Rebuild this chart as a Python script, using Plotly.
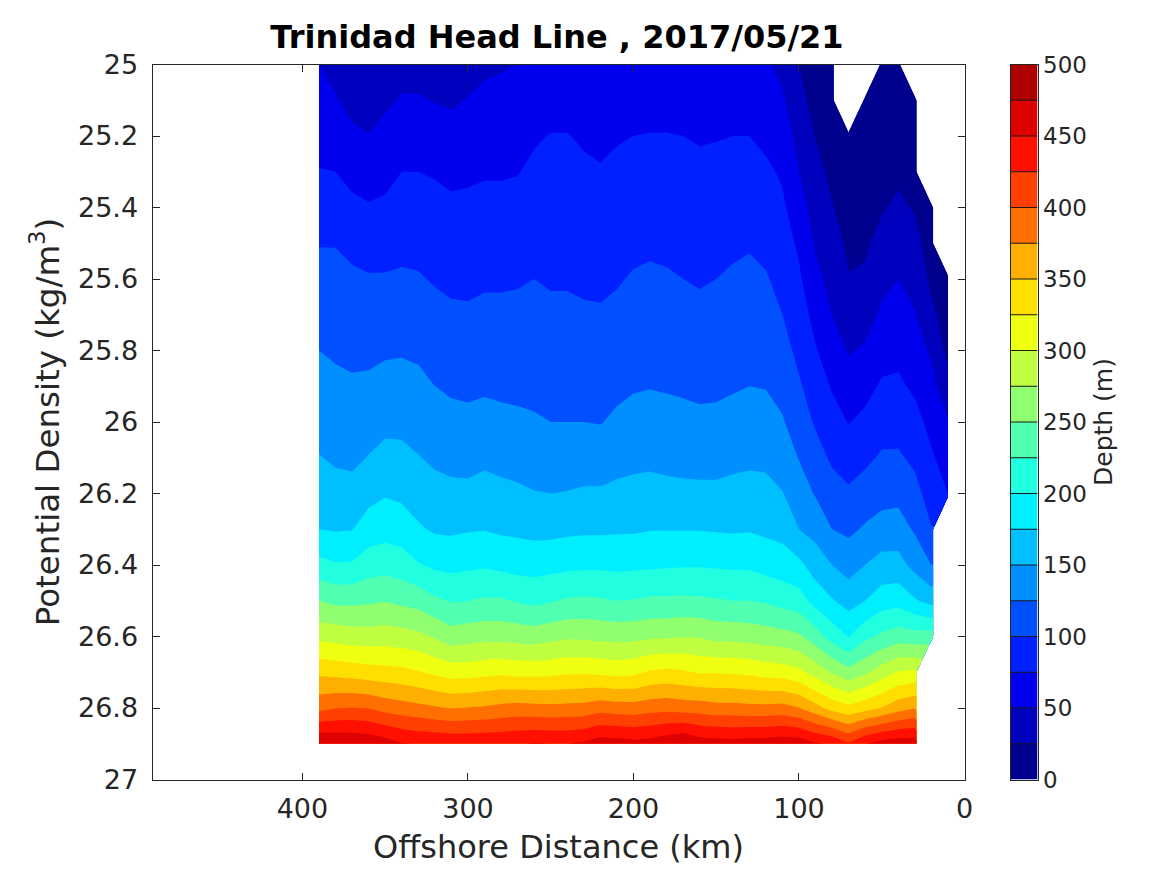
import plotly.graph_objects as go
import numpy as np

# The page puts the figure about 8 px in from the window corner
PAGE = 7.5
W, H = 1151, 859

# Offshore stations (km) and density levels (kg/m3)
distance = [390, 380, 370, 360, 350, 340, 330, 320, 310, 300, 290, 280, 270, 260, 250, 240, 230, 220, 210, 200,
            190, 180, 170, 160, 150, 140, 130, 120, 110, 100, 90, 80, 70, 60, 50, 40, 30, 20, 10]
density = [25.0, 25.1, 25.2, 25.3, 25.4, 25.5, 25.6, 25.7, 25.8, 25.9,
           26.0, 26.1, 26.2, 26.3, 26.4, 26.5, 26.6, 26.7, 26.8, 26.9]

# Depth (m) of each isopycnal, one list per station
depth = [
    [50, 59, 67, 76, 88, 99, 108, 117, 125, 134, 142, 151, 163, 175, 208, 250, 293, 345, 393, 475],
    [41, 52, 63, 75, 87, 99, 107, 115, 122, 130, 138, 147, 158, 173, 202, 244, 290, 342, 399, 473],
    [29, 42, 55, 67, 81, 94, 104, 112, 120, 128, 137, 145, 158, 174, 203, 244, 287, 339, 401, 472],
    [26, 38, 51, 64, 77, 90, 102, 111, 120, 129, 140, 151, 167, 187, 213, 246, 286, 336, 399, 469],
    [35, 46, 57, 68, 79, 91, 102, 112, 122, 133, 144, 157, 173, 191, 215, 249, 287, 334, 391, 462],
    [41, 52, 63, 75, 84, 94, 103, 113, 123, 133, 144, 156, 170, 188, 212, 244, 285, 332, 386, 452],
    [41, 52, 64, 75, 84, 93, 102, 112, 121, 131, 141, 151, 164, 178, 202, 240, 281, 327, 382, 449],
    [38, 49, 61, 73, 82, 90, 98, 107, 116, 125, 135, 146, 158, 172, 195, 230, 272, 320, 378, 447],
    [35, 47, 58, 70, 79, 87, 95, 104, 113, 122, 131, 143, 156, 171, 193, 223, 261, 314, 374, 445],
    [41, 51, 61, 71, 80, 87, 95, 103, 111, 120, 131, 143, 155, 173, 195, 225, 265, 314, 376, 445],
    [46, 55, 64, 73, 81, 89, 97, 105, 114, 122, 132, 145, 159, 174, 197, 228, 267, 318, 378, 446],
    [48, 56, 65, 73, 81, 89, 97, 105, 113, 121, 130, 143, 156, 171, 194, 228, 267, 320, 382, 447],
    [50, 58, 66, 74, 82, 90, 98, 105, 113, 120, 129, 141, 154, 170, 191, 223, 265, 317, 385, 448],
    [52, 62, 72, 80, 86, 93, 100, 106, 113, 120, 127, 139, 151, 168, 190, 219, 263, 317, 383, 452],
    [54, 65, 76, 81, 87, 92, 98, 104, 111, 118, 125, 137, 150, 168, 192, 223, 267, 318, 382, 450],
    [54, 65, 76, 81, 87, 92, 98, 104, 111, 118, 125, 137, 151, 170, 194, 228, 271, 321, 383, 450],
    [53, 62, 72, 79, 85, 91, 96, 103, 110, 117, 125, 138, 153, 171, 195, 229, 270, 322, 384, 454],
    [52, 60, 69, 77, 83, 89, 96, 102, 110, 117, 124, 138, 153, 171, 195, 228, 268, 320, 390, 464],
    [54, 63, 73, 80, 86, 92, 98, 105, 112, 120, 129, 141, 156, 172, 194, 225, 267, 317, 387, 462],
    [55, 65, 75, 82, 89, 95, 102, 109, 116, 123, 133, 144, 157, 172, 195, 226, 268, 319, 386, 458],
    [55, 66, 76, 83, 90, 97, 103, 110, 117, 124, 135, 145, 158, 174, 196, 229, 271, 328, 390, 461],
    [55, 66, 76, 82, 89, 96, 102, 109, 116, 123, 133, 143, 157, 174, 197, 229, 272, 331, 392, 468],
    [54, 64, 75, 81, 87, 93, 100, 107, 114, 122, 131, 142, 156, 174, 198, 230, 274, 328, 389, 476],
    [53, 63, 73, 80, 86, 92, 98, 105, 113, 120, 130, 142, 155, 174, 198, 229, 273, 323, 388, 464],
    [53, 63, 74, 80, 87, 93, 100, 107, 114, 121, 130, 142, 155, 173, 197, 227, 267, 323, 384, 462],
    [54, 65, 75, 82, 89, 96, 103, 110, 116, 123, 132, 144, 157, 172, 196, 225, 267, 322, 384, 460],
    [54, 65, 75, 82, 90, 98, 105, 111, 118, 125, 135, 145, 159, 173, 196, 225, 265, 320, 382, 463],
    [53, 62, 70, 79, 87, 94, 102, 109, 116, 124, 134, 145, 157, 170, 191, 222, 262, 315, 382, 463],
    [44, 53, 62, 72, 79, 86, 93, 100, 109, 118, 127, 139, 151, 167, 187, 216, 259, 313, 384, 467],
    [25, 33, 42, 50, 61, 71, 79, 87, 94, 103, 113, 124, 137, 150, 181, 211, 254, 306, 376, 465],
    [9, 16, 24, 32, 39, 47, 56, 67, 77, 87, 97, 110, 123, 142, 163, 191, 237, 289, 359, 453],
    [6, 10, 15, 20, 26, 34, 42, 50, 61, 73, 84, 96, 110, 125, 150, 177, 215, 273, 341, 447],
    [None, None, 8, 11, 16, 21, 26, 37, 48, 61, 74, 88, 104, 120, 140, 165, 199, 258, 331, 428],
    [None, 5, 9, 13, 18, 22, 28, 40, 53, 67, 81, 95, 111, 128, 150, 175, 219, 271, 341, 450],
    [6, 10, 14, 19, 23, 32, 43, 54, 66, 78, 90, 103, 116, 135, 159, 188, 230, 287, 351, 461],
    [8, 13, 18, 21, 29, 40, 50, 60, 69, 79, 91, 103, 118, 136, 159, 191, 238, 302, 365, 466],
    [None, 5, 10, 15, 23, 32, 42, 51, 61, 71, 83, 95, 108, 122, 142, 178, 235, 304, 374, 466],
    [None, None, None, None, 8, 14, 20, 31, 46, 58, 68, 78, 89, 101, 125, 166, 237, None, None, None],
    [None, None, None, None, None, None, 8, 12, 18, 33, 52, 64, 75, None, None, None, None, None, None, None],
]

depth_levels = list(range(0, 525, 25))
band_colors = ['#00008f', '#0000bf', '#0000ef', '#0020ff', '#0050ff', '#008fff', '#00bfff', '#00efff', '#20ffdf', '#50ffaf',
               '#8fff70', '#bfff40', '#efff10', '#ffdf00', '#ffaf00', '#ff7000', '#ff4000', '#ff1000', '#df0000', '#af0000']

x_ticks = [400, 300, 200, 100, 0]
y_ticks = [25, 25.2, 25.4, 25.6, 25.8, 26, 26.2, 26.4, 26.6, 26.8, 27]
y_labels = ['25', '25.2', '25.4', '25.6', '25.8', '26', '26.2', '26.4', '26.6', '26.8', '27']
bar_ticks = list(range(0, 550, 50))

text_color = '#262626'
font_name = 'DejaVu Sans'


def xfrac(px):
    return (px - PAGE) / W


def yfrac(px):
    return 1 - (px - PAGE) / H


z = np.array(depth, dtype=float).T

# plotly picks the fill of a band at (i+1)/(n+1) of the colorscale
n_bands = len(band_colors)
scale = [[0, band_colors[0]]]
for i, c in enumerate(band_colors):
    scale.append([(i + 1) / (n_bands + 1), c])
scale.append([1, band_colors[-1]])

fig = go.Figure()

fig.add_trace(go.Contour(
    x=distance, y=density, z=z,
    autocontour=False,
    contours=dict(start=0, end=500, size=25, coloring='fill', showlines=False),
    line=dict(width=0, smoothing=0),
    colorscale=scale,
    showscale=False,
    hoverinfo='skip',
))

# Colorbar drawn as a small heatmap on its own axes
fig.add_trace(go.Heatmap(
    x=[0, 1], y=depth_levels,
    z=[[lev] for lev in depth_levels[:-1]],
    zmin=0, zmax=475,
    colorscale=[[i / (n_bands - 1), c] for i, c in enumerate(band_colors)],
    showscale=False,
    hoverinfo='skip',
    xaxis='x2', yaxis='y2',
))

for lev in depth_levels[1:-1]:
    fig.add_shape(type='line', xref='x2', yref='y2', x0=0, x1=1, y0=lev, y1=lev,
                  line=dict(color='#1a1a1a', width=1))

axis_style = dict(showgrid=False, zeroline=False, showline=True, linecolor=text_color, linewidth=1,
                  mirror='allticks', ticks='inside', ticklen=7, tickcolor=text_color, tickwidth=1)

fig.update_layout(
    width=W, height=H,
    margin=dict(l=0, r=0, t=0, b=0, autoexpand=False),
    paper_bgcolor='white', plot_bgcolor='white',
    showlegend=False,
    font=dict(family=font_name, color=text_color),
    title=dict(text='<b>Trinidad Head Line , 2017/05/21</b>', x=xfrac(556.5), xanchor='center',
               y=yfrac(36.5), yanchor='middle', font=dict(size=32, color='black')),
    xaxis=dict(domain=[xfrac(152), xfrac(964)], range=[490.6, 0], tickvals=x_ticks, tickfont=dict(size=27),
               ticklabelstandoff=5,
               title=dict(text='Offshore Distance (km)', font=dict(size=32), standoff=12), **axis_style),
    yaxis=dict(domain=[yfrac(779), yfrac(64)], range=[27, 25], tickvals=y_ticks, ticktext=y_labels, tickfont=dict(size=27),
               ticklabelstandoff=8,
               title=dict(text='Potential Density (kg/m<sup>3</sup>)', font=dict(size=32.5), standoff=8), **axis_style),
    xaxis2=dict(domain=[xfrac(1010), xfrac(1037)], range=[0, 1], showticklabels=False, ticks='', showgrid=False,
                zeroline=False, showline=True, linecolor=text_color, linewidth=1, mirror=True, anchor='y2'),
    yaxis2=dict(domain=[yfrac(779), yfrac(64)], range=[0, 500], side='right', anchor='x2', tickvals=bar_ticks,
                ticks='', showgrid=False, zeroline=False, showline=True, linecolor=text_color, linewidth=1, mirror=True,
                tickfont=dict(size=23), title=dict(text='Depth (m)', font=dict(size=25), standoff=8)),
)

fig.write_html("out.html")
